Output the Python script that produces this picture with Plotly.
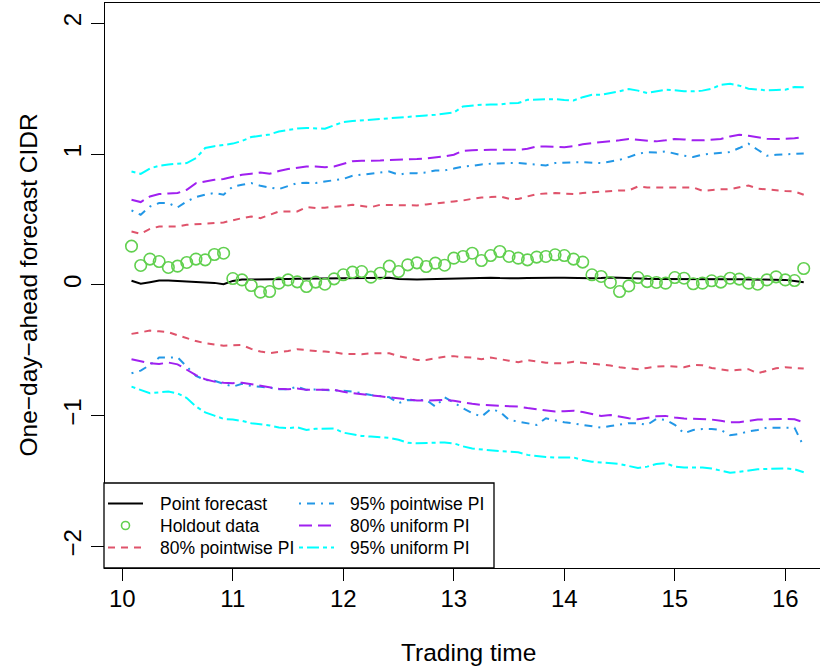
import plotly.graph_objects as go

# ---------------- data ----------------
# trading time grid: 10:05 ... 16:10 in 5-minute steps (hours)
minutes = list(range(605, 971, 5))
trading_time = [m / 60 for m in minutes]

point_forecast = [0.031, 0.008, 0.020, 0.033, 0.033, 0.030, 0.028, 0.025, 0.020, 0.015,
                  0.005, 0.030, 0.040, 0.042, 0.044, 0.044, 0.045, 0.045, 0.046, 0.047,
                  0.048, 0.050, 0.052, 0.054, 0.055, 0.056, 0.056, 0.055, 0.054, 0.045,
                  0.040, 0.040, 0.042, 0.044, 0.046, 0.048, 0.050, 0.055, 0.058, 0.055,
                  0.052, 0.050, 0.050, 0.052, 0.054, 0.055, 0.055, 0.054, 0.052, 0.050,
                  0.050, 0.052, 0.056, 0.054, 0.050, 0.048, 0.046, 0.045, 0.044, 0.044,
                  0.044, 0.044, 0.043, 0.043, 0.042, 0.042, 0.042, 0.042, 0.042, 0.042,
                  0.040, 0.038, 0.030, 0.020]

holdout = [0.296, 0.148, 0.197, 0.178, 0.133, 0.143, 0.171, 0.197, 0.191, 0.232,
           0.242, 0.048, 0.038, -0.005, -0.056, -0.051, 0.013, 0.038, 0.023, -0.013,
           0.021, 0.005, 0.046, 0.077, 0.097, 0.102, 0.059, 0.089, 0.143, 0.102,
           0.153, 0.168, 0.140, 0.166, 0.150, 0.204, 0.217, 0.242, 0.186, 0.224,
           0.255, 0.217, 0.204, 0.191, 0.212, 0.217, 0.230, 0.224, 0.197, 0.174,
           0.077, 0.064, 0.018, -0.051, -0.008, 0.056, 0.025, 0.018, 0.013, 0.056,
           0.051, 0.008, 0.013, 0.031, 0.021, 0.051, 0.044, 0.013, 0.005, 0.038,
           0.061, 0.038, 0.033, 0.125]

pw80_upper = [0.408, 0.390, 0.428, 0.446, 0.446, 0.446, 0.459, 0.462, 0.467, 0.472,
              0.477, 0.495, 0.510, 0.523, 0.510, 0.535, 0.561, 0.561, 0.561, 0.594,
              0.587, 0.590, 0.594, 0.603, 0.612, 0.603, 0.594, 0.612, 0.612, 0.612,
              0.610, 0.607, 0.615, 0.625, 0.630, 0.638, 0.645, 0.658, 0.668, 0.671,
              0.676, 0.658, 0.656, 0.676, 0.694, 0.698, 0.702, 0.698, 0.694, 0.702,
              0.708, 0.714, 0.718, 0.722, 0.722, 0.752, 0.745, 0.745, 0.745, 0.740,
              0.745, 0.745, 0.719, 0.727, 0.730, 0.732, 0.746, 0.760, 0.735, 0.728,
              0.722, 0.718, 0.714, 0.689]
pw80_lower = [-0.375, -0.360, -0.350, -0.355, -0.362, -0.385, -0.410, -0.430, -0.446, -0.455,
              -0.465, -0.462, -0.460, -0.490, -0.510, -0.522, -0.515, -0.505, -0.492, -0.500,
              -0.506, -0.510, -0.515, -0.528, -0.531, -0.530, -0.524, -0.523, -0.523, -0.545,
              -0.558, -0.574, -0.574, -0.562, -0.550, -0.545, -0.554, -0.556, -0.568, -0.556,
              -0.570, -0.580, -0.592, -0.576, -0.585, -0.595, -0.599, -0.599, -0.588, -0.595,
              -0.604, -0.614, -0.617, -0.630, -0.640, -0.645, -0.635, -0.625, -0.621, -0.625,
              -0.630, -0.612, -0.615, -0.636, -0.645, -0.656, -0.650, -0.645, -0.676, -0.655,
              -0.638, -0.630, -0.635, -0.640]

pw95_upper = [0.569, 0.536, 0.599, 0.625, 0.625, 0.592, 0.638, 0.671, 0.689, 0.702,
              0.689, 0.752, 0.765, 0.778, 0.757, 0.745, 0.732, 0.755, 0.778, 0.780,
              0.778, 0.790, 0.798, 0.810, 0.834, 0.842, 0.849, 0.854, 0.867, 0.842,
              0.854, 0.854, 0.859, 0.875, 0.875, 0.889, 0.905, 0.910, 0.921, 0.926,
              0.931, 0.931, 0.931, 0.926, 0.921, 0.913, 0.931, 0.936, 0.936, 0.938,
              0.936, 0.931, 0.943, 0.956, 0.977, 1.002, 1.015, 1.012, 1.020, 1.002,
              0.987, 0.977, 0.995, 1.003, 1.008, 1.015, 1.046, 1.079, 1.033, 0.987,
              0.995, 1.000, 1.002, 1.005]
pw95_lower = [-0.676, -0.656, -0.612, -0.556, -0.556, -0.554, -0.625, -0.696, -0.727, -0.734,
              -0.757, -0.778, -0.757, -0.773, -0.780, -0.786, -0.798, -0.798, -0.778, -0.803,
              -0.800, -0.803, -0.803, -0.810, -0.816, -0.830, -0.842, -0.850, -0.860, -0.905,
              -0.880, -0.882, -0.880, -0.931, -0.860, -0.900, -0.944, -0.980, -1.008, -0.951,
              -0.969, -1.033, -1.046, -1.060, -1.071, -1.020, -1.038, -1.051, -1.060, -1.071,
              -1.079, -1.092, -1.080, -1.071, -1.058, -1.058, -1.071, -1.025, -1.033, -1.070,
              -1.135, -1.110, -1.102, -1.102, -1.110, -1.150, -1.140, -1.120, -1.110, -1.092,
              -1.092, -1.092, -1.092, -1.237]

un80_upper = [0.650, 0.633, 0.676, 0.694, 0.698, 0.702, 0.727, 0.778, 0.790, 0.803,
              0.809, 0.825, 0.842, 0.850, 0.859, 0.849, 0.870, 0.885, 0.895, 0.905,
              0.905, 0.900, 0.905, 0.925, 0.945, 0.949, 0.949, 0.950, 0.955, 0.956,
              0.958, 0.962, 0.967, 0.972, 0.982, 0.995, 1.025, 1.030, 1.033, 1.033,
              1.033, 1.033, 1.033, 1.040, 1.058, 1.058, 1.058, 1.053, 1.060, 1.075,
              1.084, 1.090, 1.097, 1.105, 1.115, 1.110, 1.100, 1.097, 1.105, 1.115,
              1.112, 1.105, 1.105, 1.110, 1.115, 1.135, 1.148, 1.140, 1.130, 1.118,
              1.115, 1.115, 1.120, 1.130]
un80_lower = [-0.569, -0.585, -0.600, -0.605, -0.594, -0.608, -0.650, -0.690, -0.722, -0.740,
              -0.748, -0.752, -0.748, -0.760, -0.770, -0.783, -0.795, -0.798, -0.793, -0.803,
              -0.803, -0.802, -0.803, -0.818, -0.828, -0.837, -0.845, -0.852, -0.860, -0.872,
              -0.877, -0.885, -0.885, -0.880, -0.880, -0.887, -0.900, -0.910, -0.918, -0.922,
              -0.926, -0.929, -0.931, -0.942, -0.950, -0.962, -0.968, -0.966, -0.962, -0.972,
              -0.985, -1.002, -0.995, -1.010, -1.020, -1.028, -1.018, -1.005, -1.002, -1.015,
              -1.022, -1.025, -1.025, -1.030, -1.040, -1.050, -1.050, -1.041, -1.030, -1.028,
              -1.026, -1.026, -1.028, -1.051]

un95_upper = [0.867, 0.849, 0.890, 0.911, 0.921, 0.926, 0.931, 0.969, 1.046, 1.060,
              1.071, 1.080, 1.100, 1.130, 1.140, 1.150, 1.173, 1.186, 1.195, 1.199,
              1.196, 1.194, 1.220, 1.245, 1.252, 1.257, 1.260, 1.265, 1.275, 1.280,
              1.285, 1.288, 1.295, 1.301, 1.310, 1.318, 1.364, 1.372, 1.377, 1.378,
              1.380, 1.388, 1.390, 1.415, 1.418, 1.420, 1.420, 1.414, 1.410, 1.435,
              1.454, 1.454, 1.465, 1.480, 1.497, 1.485, 1.467, 1.480, 1.492, 1.488,
              1.481, 1.480, 1.485, 1.500, 1.530, 1.538, 1.523, 1.500, 1.492, 1.487,
              1.490, 1.492, 1.513, 1.510]
un95_lower = [-0.778, -0.805, -0.829, -0.822, -0.816, -0.830, -0.865, -0.930, -0.975, -1.000,
              -1.025, -1.030, -1.040, -1.058, -1.066, -1.075, -1.090, -1.095, -1.089, -1.109,
              -1.100, -1.098, -1.098, -1.130, -1.145, -1.155, -1.160, -1.163, -1.170, -1.185,
              -1.208, -1.211, -1.210, -1.207, -1.205, -1.212, -1.235, -1.252, -1.260, -1.265,
              -1.272, -1.275, -1.280, -1.300, -1.310, -1.316, -1.321, -1.320, -1.320, -1.340,
              -1.352, -1.358, -1.362, -1.370, -1.385, -1.400, -1.390, -1.370, -1.364, -1.390,
              -1.397, -1.397, -1.397, -1.405, -1.420, -1.436, -1.430, -1.421, -1.410, -1.408,
              -1.403, -1.403, -1.410, -1.433]

x_ticks = [10, 11, 12, 13, 14, 15, 16]
y_ticks = [-2, -1, 0, 1, 2]
y_tick_text = ["\u22122", "\u22121", "0", "1", "2"]

legend_labels = ["Point forecast", "Holdout data", "80% pointwise PI",
                 "95% pointwise PI", "80% uniform PI", "95% uniform PI"]

# ---------------- styles ----------------
FONT = "Liberation Sans, Arial, Helvetica, sans-serif"
C_BLACK = "#000000"
C_GREEN = "#61D04F"
C_RED = "#DF536B"
C_BLUE = "#2297E6"
C_PURPLE = "#A020F0"
C_CYAN = "#00FFFF"
D_RED = "7px,6px"
D_BLUE = "2px,6px,8px,6px"
D_PURPLE = "13px,6px"
D_CYAN = "4px,4px,12px,4px"
LW = 2

W, H = 820, 669
ML, MR, MT, MB = 105, 0, 3, 101

fig = go.Figure()

def add_line(y, color, dash):
    fig.add_trace(go.Scatter(x=trading_time, y=y, mode="lines",
                             line=dict(color=color, width=LW, dash=dash),
                             showlegend=False, hoverinfo="skip"))

add_line(pw80_upper, C_RED, D_RED)
add_line(pw80_lower, C_RED, D_RED)
add_line(pw95_upper, C_BLUE, D_BLUE)
add_line(pw95_lower, C_BLUE, D_BLUE)
add_line(un80_upper, C_PURPLE, D_PURPLE)
add_line(un80_lower, C_PURPLE, D_PURPLE)
add_line(un95_upper, C_CYAN, D_CYAN)
add_line(un95_lower, C_CYAN, D_CYAN)
add_line(point_forecast, C_BLACK, "solid")

fig.add_trace(go.Scatter(x=trading_time, y=holdout, mode="markers",
                         marker=dict(symbol="circle-open", size=11.5, color=C_GREEN,
                                     line=dict(width=1.6, color=C_GREEN)),
                         showlegend=False, hoverinfo="skip"))

# ---------------- manual legend (R style box) ----------------
PW = W - ML - MR
PH = H - MT - MB

def px(p):
    return (p - ML) / PW

def py(p):
    return (H - MB - p) / PH

shapes = []
annotations = []
shapes.append(dict(type="rect", xref="paper", yref="paper",
                   x0=px(104), x1=px(494), y0=py(568), y1=py(483),
                   line=dict(color="black", width=1.3), fillcolor="white", layer="above"))

rows = [503.5, 525.5, 547.5]
cols = [(108, 143, 158), (299, 334, 348)]
styles = [("line", C_BLACK, "solid"), ("marker", C_GREEN, None), ("line", C_RED, D_RED),
          ("line", C_BLUE, D_BLUE), ("line", C_PURPLE, D_PURPLE), ("line", C_CYAN, D_CYAN)]

for i, label in enumerate(legend_labels):
    c = cols[i // 3]
    r = rows[i % 3]
    kind, color, dash = styles[i]
    if kind == "line":
        shapes.append(dict(type="line", xref="paper", yref="paper",
                           x0=px(c[0]), x1=px(c[1]), y0=py(r), y1=py(r),
                           line=dict(color=color, width=LW, dash=dash), layer="above"))
    else:
        cx = (c[0] + c[1]) / 2
        shapes.append(dict(type="circle", xref="paper", yref="paper",
                           x0=px(cx - 4), x1=px(cx + 4), y0=py(r + 4), y1=py(r - 4),
                           line=dict(color=color, width=1.6), layer="above"))
    annotations.append(dict(text=label, xref="paper", yref="paper",
                            x=px(c[2]), y=py(r), xanchor="left", yanchor="middle",
                            showarrow=False, font=dict(family=FONT, size=17.5, color="black")))

# axis titles
annotations.append(dict(text="Trading time", xref="paper", yref="paper",
                        x=px(468), y=py(652), xanchor="center", yanchor="middle",
                        showarrow=False, font=dict(family=FONT, size=24.5, color="black")))
annotations.append(dict(text="One\u2212day\u2212ahead forecast CIDR", xref="paper", yref="paper",
                        x=px(28), y=py(285.5), xanchor="center", yanchor="middle",
                        textangle=-90, showarrow=False,
                        font=dict(family=FONT, size=24.5, color="black")))

fig.update_layout(
    width=W, height=H,
    margin=dict(l=ML, r=MR, t=MT, b=MB, pad=0),
    paper_bgcolor="white", plot_bgcolor="white",
    font=dict(family=FONT, size=24, color="black"),
    shapes=shapes, annotations=annotations,
    showlegend=False,
)
fig.update_xaxes(range=[9.8434, 16.314], tickvals=x_ticks, ticktext=[str(v) for v in x_ticks],
                 ticks="outside", ticklen=12, tickwidth=1.3, tickcolor="black",
                 showline=True, linecolor="black", linewidth=1.3, mirror=True,
                 showgrid=False, zeroline=False, ticklabelstandoff=-3,
                 tickfont=dict(size=24, family=FONT))
fig.update_yaxes(range=[-2.165, 2.155], tickvals=y_ticks, ticktext=y_tick_text,
                 tickangle=-90, ticks="outside", ticklen=13, tickwidth=1.3, tickcolor="black",
                 showline=True, linecolor="black", linewidth=1.3, mirror=False,
                 showgrid=False, zeroline=False, tickfont=dict(size=24, family=FONT))

fig.write_html("out.html", config={"displayModeBar": False},
               post_script="document.body.style.margin='0px';document.body.style.overflow='hidden';")
